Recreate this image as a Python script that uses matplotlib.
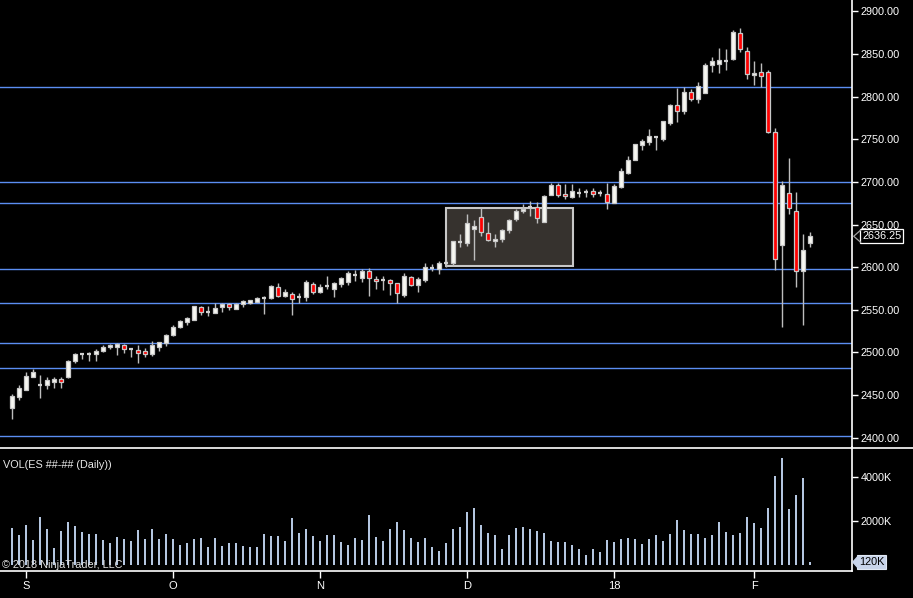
import matplotlib
matplotlib.use("Agg")
import matplotlib.pyplot as plt
import matplotlib.patches as patches
import matplotlib.transforms as mtransforms
from matplotlib.lines import Line2D

plt.rcParams['font.family'] = ['Liberation Sans', 'DejaVu Sans']

# ---------------- data ----------------
opens = [2435.2, 2448.1, 2456.3, 2471.6, 2461.5, 2462.2, 2465.7, 2468.4, 2471.6, 2490.3,
 2498.5, 2497.6, 2497.7, 2502.0, 2505.9, 2506.7, 2508.3, 2504.4, 2502.8, 2501.7,
 2498.5, 2506.7, 2511.4, 2520.8, 2529.8, 2535.7, 2538.4, 2553.3, 2547.3, 2546.6,
 2552.9, 2556.4, 2551.3, 2556.4, 2558.3, 2559.5, 2564.1, 2564.2, 2576.7, 2565.8,
 2568.1, 2564.6, 2565.4, 2579.9, 2571.3, 2577.5, 2574.8, 2580.7, 2583.0, 2591.2,
 2587.7, 2595.5, 2585.7, 2585.4, 2585.0, 2581.1, 2567.4, 2588.1, 2579.5, 2585.3,
 2599.0, 2597.5, 2605.2, 2605.3, 2629.8, 2628.7, 2644.4, 2658.4, 2639.7, 2630.3,
 2633.4, 2643.2, 2656.1, 2666.3, 2670.2, 2670.2, 2653.4, 2684.2, 2696.3, 2685.7,
 2682.6, 2687.2, 2687.6, 2688.9, 2686.6, 2685.5, 2675.6, 2694.3, 2710.0, 2726.0,
 2742.8, 2747.1, 2752.1, 2750.6, 2769.4, 2790.5, 2783.5, 2805.4, 2797.5, 2804.6,
 2836.6, 2837.8, 2842.0, 2843.7, 2874.9, 2853.8, 2825.0, 2829.2, 2828.4, 2758.1,
 2625.5, 2686.5, 2665.4, 2595.1, 2628.7]

highs = [2451.2, 2461.8, 2477.0, 2480.9, 2473.5, 2471.2, 2471.6, 2471.6, 2491.1, 2499.7,
 2498.9, 2500.1, 2504.0, 2508.7, 2509.9, 2510.6, 2509.9, 2504.6, 2508.3, 2504.8,
 2513.0, 2511.8, 2521.6, 2531.8, 2538.0, 2541.5, 2554.8, 2554.4, 2554.4, 2557.6,
 2558.3, 2557.6, 2558.3, 2561.5, 2561.5, 2565.4, 2565.8, 2579.1, 2581.0, 2574.0,
 2570.5, 2569.3, 2584.9, 2582.6, 2580.3, 2589.6, 2582.6, 2588.1, 2595.1, 2596.7,
 2598.2, 2598.6, 2589.6, 2589.6, 2586.5, 2581.1, 2592.8, 2589.6, 2588.1, 2604.9,
 2603.7, 2607.6, 2608.4, 2630.7, 2638.9, 2662.4, 2655.3, 2669.0, 2653.0, 2638.9,
 2645.2, 2656.1, 2667.8, 2674.1, 2677.6, 2676.8, 2684.6, 2698.3, 2699.0, 2697.5,
 2697.5, 2692.4, 2691.2, 2692.4, 2690.4, 2699.0, 2697.9, 2715.8, 2730.3, 2744.0,
 2750.6, 2761.6, 2753.0, 2771.4, 2791.3, 2809.7, 2811.6, 2809.3, 2817.1, 2839.8,
 2846.0, 2857.0, 2855.4, 2878.1, 2880.0, 2858.5, 2841.3, 2839.0, 2831.2, 2763.5,
 2701.0, 2728.0, 2687.7, 2638.8, 2641.2]

lows = [2422.3, 2444.2, 2456.0, 2471.6, 2446.9, 2457.5, 2458.7, 2458.7, 2470.4, 2488.0,
 2492.7, 2490.3, 2490.3, 2500.9, 2504.4, 2497.0, 2499.7, 2495.0, 2488.0, 2495.0,
 2496.2, 2502.0, 2507.5, 2519.2, 2528.6, 2532.5, 2538.0, 2544.3, 2543.1, 2546.6,
 2547.4, 2549.7, 2550.5, 2553.6, 2556.4, 2559.5, 2545.0, 2563.0, 2565.4, 2565.0,
 2544.3, 2557.6, 2560.3, 2568.5, 2570.1, 2574.8, 2565.4, 2577.1, 2579.1, 2584.2,
 2582.6, 2566.2, 2574.8, 2573.2, 2567.0, 2557.6, 2565.4, 2577.9, 2570.9, 2582.6,
 2595.9, 2592.0, 2599.8, 2601.4, 2623.3, 2624.8, 2608.4, 2636.6, 2630.3, 2624.0,
 2629.5, 2640.5, 2653.8, 2663.9, 2660.0, 2652.1, 2653.4, 2684.2, 2682.6, 2679.5,
 2681.1, 2682.6, 2682.6, 2682.6, 2683.4, 2668.7, 2675.6, 2693.2, 2709.2, 2725.2,
 2737.3, 2743.6, 2737.3, 2748.3, 2766.7, 2770.6, 2780.0, 2795.2, 2792.9, 2803.8,
 2829.2, 2827.3, 2831.2, 2842.9, 2852.7, 2820.2, 2814.0, 2810.8, 2756.9, 2596.6,
 2529.4, 2661.9, 2577.1, 2531.7, 2624.0]

closes = [2448.9, 2458.3, 2472.3, 2477.0, 2462.0, 2467.6, 2468.8, 2464.9, 2489.9, 2497.7,
 2498.7, 2497.8, 2501.3, 2506.0, 2508.3, 2509.9, 2504.4, 2504.5, 2499.7, 2498.5,
 2508.3, 2511.8, 2520.0, 2529.8, 2536.8, 2540.4, 2554.4, 2547.8, 2547.5, 2551.7,
 2556.8, 2552.9, 2557.2, 2560.3, 2561.5, 2563.8, 2564.3, 2577.9, 2566.5, 2570.8,
 2562.2, 2564.8, 2582.2, 2571.3, 2576.7, 2577.7, 2581.1, 2586.9, 2593.6, 2591.4,
 2595.5, 2587.7, 2583.4, 2585.6, 2581.8, 2569.3, 2589.3, 2579.5, 2585.7, 2599.8,
 2599.2, 2604.9, 2605.4, 2630.7, 2630.0, 2651.4, 2647.9, 2641.6, 2631.9, 2632.6,
 2643.2, 2654.9, 2665.5, 2668.6, 2670.4, 2657.3, 2683.5, 2696.3, 2684.6, 2683.4,
 2688.9, 2687.4, 2687.8, 2685.7, 2686.4, 2676.8, 2695.1, 2712.3, 2725.2, 2744.0,
 2747.5, 2753.4, 2752.3, 2771.4, 2789.7, 2783.5, 2805.4, 2797.5, 2812.0, 2836.6,
 2841.3, 2842.5, 2842.3, 2875.3, 2855.4, 2826.5, 2827.3, 2824.1, 2758.1, 2609.1,
 2696.3, 2668.9, 2595.1, 2620.1, 2636.25]

volumes_k = [1680, 1360, 1817, 1131, 2184, 1634, 765, 1543, 1955, 1772,
 1497, 1405, 1405, 1131, 993, 1268, 1177, 1085, 1589, 1177,
 1634, 1177, 1405, 1177, 902, 993, 1177, 1222, 810, 1222,
 856, 993, 993, 856, 810, 810, 1405, 1314, 1314, 1085,
 2138, 1451, 1634, 1314, 1085, 1360, 1360, 1039, 902, 1222,
 1131, 2275, 1268, 1085, 1634, 1955, 1589, 1222, 1039, 1222,
 810, 627, 993, 1634, 1726, 2413, 2596, 1817, 1451, 1360,
 719, 1360, 1680, 1726, 1634, 1543, 1451, 1085, 1039, 1039,
 902, 719, 444, 719, 581, 1131, 1039, 1177, 1222, 1177,
 948, 1177, 1360, 1085, 1405, 2046, 1589, 1405, 1405, 1222,
 1360, 1955, 1497, 1360, 1451, 2184, 1909, 1680, 2596, 4061,
 4885, 2550, 3191, 3969, 120]

hlines = [2811.2, 2699.3, 2675.4, 2597.5, 2557.6, 2510.7, 2481.4, 2402.0]
month_pos = [2, 23, 44, 65, 86, 106]
month_labels = ['S', 'O', 'N', 'D', '18', 'F']
price_ticks = [2400, 2450, 2500, 2550, 2600, 2650, 2700, 2750, 2800, 2850, 2900]
vol_ticks = [2000, 4000]
box_x0, box_x1 = 62.0, 80.2
box_lo, box_hi = 2601.0, 2669.0
last_price = 2636.25
last_vol = 120

# ---------------- figure ----------------
W, H = 913, 598
fig = plt.figure(figsize=(W / 100, H / 100), dpi=100, facecolor='black')

ax1 = fig.add_axes([0, 1 - 447 / H, 852 / W, 447 / H], facecolor='black')
ax2 = fig.add_axes([0, 1 - 571 / H, 852 / W, 124 / H], facecolor='black')

n = len(closes)
xs = list(range(n))
xlim = (-12 / 7, 840 / 7)

for ax in (ax1, ax2):
    ax.set_xlim(*xlim)
    for s in ('left', 'top'):
        ax.spines[s].set_visible(False)
    ax.spines['right'].set_color('white')
    ax.spines['bottom'].set_color('white')
    ax.spines['right'].set_linewidth(1.2)
    ax.spines['bottom'].set_linewidth(1.2)
    ax.yaxis.tick_right()

ax1.spines['bottom'].set_visible(False)
ax1.set_ylim(2389.1, 2913.25)
ax1.set_xticks([])
ax1.set_yticks(price_ticks)
ax1.set_yticklabels([f"{v:.2f}" for v in price_ticks])
ax1.tick_params(axis='y', colors='white', labelcolor='white', length=4, width=1,
                labelsize=7.8, pad=2)

# horizontal lines
for v in hlines:
    ax1.axhline(v, color='#5b8ef2', lw=1.0, zorder=1, snap=True)

# rectangle
ax1.add_patch(patches.Rectangle((box_x0, box_lo), box_x1 - box_x0, box_hi - box_lo,
                                facecolor='#36322e', edgecolor='#c8c8c8', lw=1.5, zorder=2))

# candles
wick_c = '#bdbdbd'
ax1.vlines(xs, lows, highs, color=wick_c, lw=1.0, zorder=3)
bw = 0.64
for i in xs:
    o, c = opens[i], closes[i]
    lo, hi = min(o, c), max(o, c)
    if hi - lo < 1.0:
        ax1.hlines((o + c) / 2, i - bw / 2, i + bw / 2, color='#d0d0d0', lw=1.6, zorder=4)
        continue
    fc = '#ff0000' if c < o else '#f8f8f2'
    ax1.add_patch(patches.Rectangle((i - bw / 2, lo), bw, hi - lo, facecolor=fc,
                                    edgecolor='#c8c8c8', lw=0.9, zorder=4))

# last price marker
trans1 = mtransforms.blended_transform_factory(ax1.transAxes, ax1.transData)
ax1.text(1.012, last_price, f"{last_price:.2f}", transform=trans1, color='white',
         fontsize=7.8, va='center', ha='left', clip_on=False, zorder=10,
         bbox=dict(facecolor='black', edgecolor='white', boxstyle='square,pad=0.18', lw=0.9))
ax1.plot([1.010, 1.002, 1.010], [last_price + 7, last_price, last_price - 7],
         transform=trans1, color='#a0a0a0', lw=0.9, clip_on=False, zorder=11)

# ---------------- volume ----------------
ax2.set_ylim(-288, 5387)
ax2.bar(xs, volumes_k, width=0.3, color='#b4c6e0', zorder=2)
ax2.set_yticks(vol_ticks)
ax2.set_yticklabels([f"{v}K" for v in vol_ticks])
ax2.tick_params(axis='y', colors='white', labelcolor='white', length=4, width=1,
                labelsize=7.8, pad=2)
ax2.set_xticks(month_pos)
ax2.set_xticklabels(month_labels)
ax2.tick_params(axis='x', colors='white', labelcolor='white', length=5, width=1,
                labelsize=8, pad=2)

trans2 = mtransforms.blended_transform_factory(ax2.transAxes, ax2.transData)
ax2.text(1.008, last_vol, f"{last_vol}K", transform=trans2, color='black',
         fontsize=7.8, va='center', ha='left', clip_on=False, zorder=10,
         bbox=dict(facecolor='#c8d4ea', edgecolor='#e0e8f4', boxstyle='square,pad=0.15', lw=0.8))
ax2.fill([1.007, 1.001, 1.007], [last_vol + 260, last_vol, last_vol - 260],
         transform=trans2, color='#c8d4ea', clip_on=False, zorder=11)

# separator line across full width
fig.add_artist(Line2D([0, 1], [1 - 447.5 / H, 1 - 447.5 / H], color='white', lw=1.2,
                      transform=fig.transFigure))

fig.text(3 / W, 1 - 465 / H, 'VOL(ES ##-## (Daily))', color='#e8e8e8', fontsize=7.8,
         va='center', ha='left')
fig.text(2 / W, 1 - 565 / H, '\u00a9 2018 NinjaTrader, LLC', color='#e0e0e0', fontsize=7.8,
         va='center', ha='left', zorder=20)

fig.savefig('out.png', dpi=100, facecolor='black')
